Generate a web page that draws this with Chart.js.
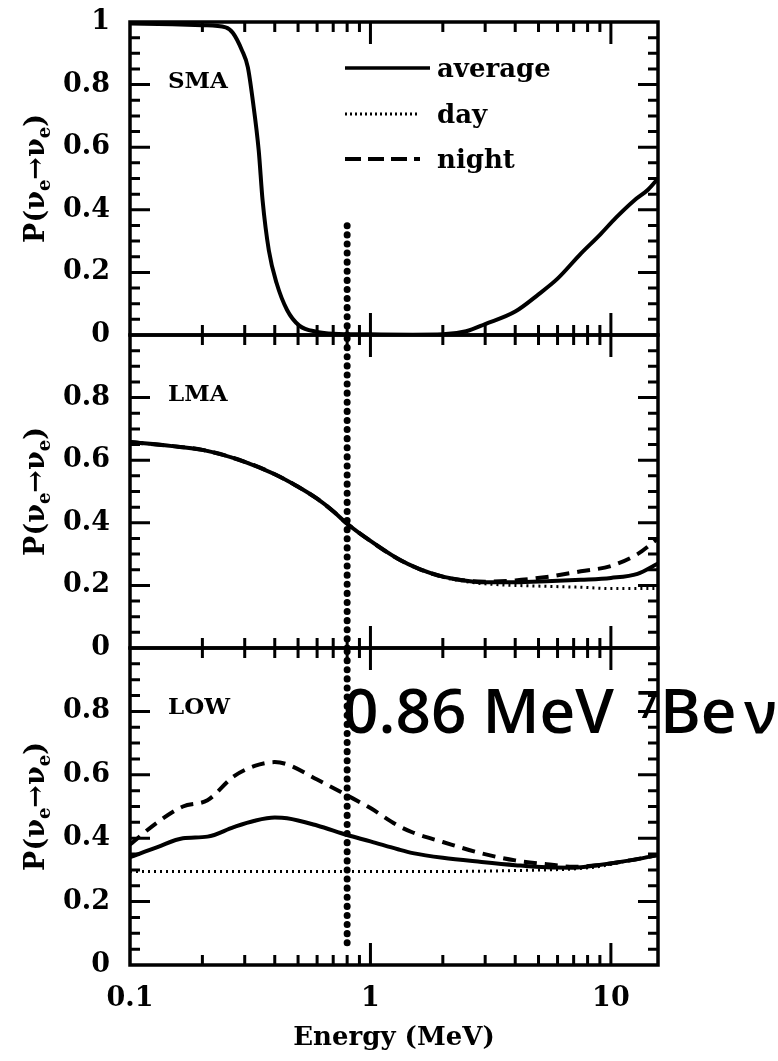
<!DOCTYPE html>
<html>
<head>
<meta charset="utf-8">
<script src="https://cdn.jsdelivr.net/npm/chart.js"></script>
<style>
  html, body { margin: 0; background: #fff; }
  #wrap { position: relative; width: 778px; height: 1061px; }
  #wrap canvas { position: absolute; left: 0; top: 0; }
</style>
</head>
<body>
<div id="wrap">
  <canvas id="sma" width="778" height="1061"></canvas>
  <canvas id="lma" width="778" height="1061"></canvas>
  <canvas id="low" width="778" height="1061"></canvas>
</div>
<script>
// ---- axes ----
const xRange = [0.1, 15.7];
const xMajor = [0.1, 1, 10];
const xMinor = [0.2, 0.3, 0.4, 0.5, 0.6, 0.7, 0.8, 0.9, 2, 3, 4, 5, 6, 7, 8, 9];
const xTickLabels = ['0.1', '1', '10'];
const yMajor = [0, 0.2, 0.4, 0.6, 0.8, 1];
const yMinor = [0.05, 0.1, 0.15, 0.25, 0.3, 0.35, 0.45, 0.5, 0.55, 0.65, 0.7, 0.75, 0.85, 0.9, 0.95];
const yTickLabels = ['0', '0.2', '0.4', '0.6', '0.8', '1'];
const legendLabels = ['average', 'day', 'night'];

// ---- SMA (day/night coincide with the average) ----
const smaE   = [0.1, 0.15, 0.2, 0.25, 0.268, 0.292, 0.309, 0.324, 0.343, 0.356, 0.378, 0.407, 0.45, 0.506, 0.6, 0.7, 1, 1.5, 2, 2.5, 3, 4, 5, 6, 7.5, 9, 10.5, 12.5, 14.3, 15.7];
const smaAvg = [0.995, 0.993, 0.99, 0.983, 0.965, 0.91, 0.856, 0.75, 0.59, 0.43, 0.27, 0.166, 0.08, 0.03, 0.01, 0.004, 0.002, 0.001, 0.002, 0.012, 0.035, 0.075, 0.13, 0.18, 0.26, 0.32, 0.375, 0.43, 0.465, 0.5];

// ---- LMA ----
const lmaE     = [0.1, 0.15, 0.2, 0.3, 0.4, 0.5, 0.6, 0.7, 0.8, 1, 1.3, 1.6, 2, 2.5, 3, 4, 5.4, 7.5, 10, 12.9, 15.7];
const lmaAvg   = [0.658, 0.645, 0.633, 0.595, 0.555, 0.515, 0.477, 0.437, 0.397, 0.342, 0.285, 0.252, 0.228, 0.215, 0.21, 0.21, 0.213, 0.218, 0.224, 0.237, 0.27];
const lmaDay   = [0.658, 0.645, 0.633, 0.595, 0.555, 0.515, 0.477, 0.437, 0.397, 0.342, 0.285, 0.252, 0.226, 0.212, 0.205, 0.2, 0.197, 0.194, 0.19, 0.19, 0.19];
const lmaNight = [0.658, 0.645, 0.633, 0.595, 0.555, 0.515, 0.477, 0.437, 0.397, 0.342, 0.285, 0.252, 0.228, 0.215, 0.212, 0.216, 0.227, 0.245, 0.262, 0.3, 0.35];

// ---- LOW ----
const lowE     = [0.1, 0.13, 0.166, 0.21, 0.27, 0.33, 0.4, 0.45, 0.6, 0.8, 1, 1.3, 1.5, 2, 2.9, 4, 5.4, 7, 8.8, 12, 15.7];
const lowAvg   = [0.34, 0.372, 0.4, 0.405, 0.435, 0.455, 0.465, 0.463, 0.44, 0.41, 0.39, 0.365, 0.353, 0.338, 0.325, 0.315, 0.308, 0.307, 0.315, 0.33, 0.347];
const lowDay   = [0.295, 0.295, 0.295, 0.295, 0.295, 0.295, 0.295, 0.295, 0.295, 0.295, 0.295, 0.295, 0.295, 0.295, 0.296, 0.298, 0.3, 0.303, 0.31, 0.33, 0.347];
const lowNight = [0.38, 0.45, 0.5, 0.52, 0.595, 0.628, 0.64, 0.633, 0.585, 0.535, 0.495, 0.44, 0.418, 0.388, 0.352, 0.33, 0.318, 0.31, 0.315, 0.33, 0.347];

// ---- 7Be line marker (energy, y span per panel) ----
const beE = 0.8;
const smaMarker = [0, 0.374];
const lmaMarker = [0, 1];
const lowMarker = [0.07, 1];

const SERIF = '"DejaVu Serif", "Liberation Serif", serif';
const SANS = '"Open Sans", "DejaVu Sans", sans-serif';
const tickFont = { family: SERIF, weight: 'bold', size: 27 };

const pts = (E, v) => E.map((e, i) => ({ x: e, y: v[i] }));
const curve = (data, kind) => ({
    data,
    borderColor: '#000',
    borderWidth: kind === 'day' ? 3 : 4,
    borderDash: kind === 'day' ? [2, 4] : kind === 'night' ? [13, 8] : [],
    pointRadius: 0,
    fill: false,
    cubicInterpolationMode: 'monotone'
});
const marker = span => ({
    data: span.map(y => ({ x: beE, y })),
    borderColor: '#000',
    borderWidth: 7,
    borderDash: [0.1, 9],
    borderCapStyle: 'round',
    pointRadius: 0,
    tension: 0
});

function drawYTitle(ctx, cx, cy) {
    const big = 'bold 27px ' + SERIF, small = 'bold 18px ' + SERIF;
    const parts = [['P(\u03BD', big, 0], ['e', small, 6], ['\u2192\u03BD', big, 0], ['e', small, 6], [')', big, 0]];
    ctx.save();
    ctx.translate(cx, cy);
    ctx.rotate(-Math.PI / 2);
    let w = 0;
    parts.forEach(p => { ctx.font = p[1]; w += ctx.measureText(p[0]).width; });
    let x = -w / 2;
    ctx.fillStyle = '#000';
    ctx.textBaseline = 'alphabetic';
    parts.forEach(p => {
        ctx.font = p[1];
        ctx.fillText(p[0], x, 9 + p[2]);
        x += ctx.measureText(p[0]).width;
    });
    ctx.restore();
}

// frame with inward ticks on all four sides, plus panel texts
function panelPlugin(name, extra) {
    return {
        id: 'panel_' + name,
        afterDraw(chart) {
            const { ctx, chartArea: a, scales: { x, y } } = chart;
            ctx.save();
            ctx.strokeStyle = '#000';
            ctx.lineCap = 'butt';
            ctx.lineWidth = 3;
            ctx.beginPath();
            const tick = (x1, y1, x2, y2) => { ctx.moveTo(x1, y1); ctx.lineTo(x2, y2); };
            xMinor.forEach(v => {
                const px = x.getPixelForValue(v);
                tick(px, a.bottom, px, a.bottom - 10);
                tick(px, a.top, px, a.top + 10);
            });
            xMajor.slice(1).forEach(v => {
                const px = x.getPixelForValue(v);
                tick(px, a.bottom, px, a.bottom - 22);
                tick(px, a.top, px, a.top + 22);
            });
            yMinor.forEach(v => {
                const py = y.getPixelForValue(v);
                tick(a.left, py, a.left + 10, py);
                tick(a.right, py, a.right - 10, py);
            });
            yMajor.slice(1, -1).forEach(v => {
                const py = y.getPixelForValue(v);
                tick(a.left, py, a.left + 20, py);
                tick(a.right, py, a.right - 20, py);
            });
            ctx.stroke();
            ctx.lineWidth = 3.5;
            ctx.strokeRect(a.left, a.top, a.right - a.left, a.bottom - a.top);

            ctx.fillStyle = '#000';
            ctx.font = 'bold 23px ' + SERIF;
            ctx.textBaseline = 'alphabetic';
            ctx.textAlign = 'left';
            ctx.fillText(name, 168, a.top + 66);
            drawYTitle(ctx, 35, (a.top + a.bottom) / 2);
            if (extra) extra(ctx, a);
            ctx.restore();
        }
    };
}

function drawLegend(ctx) {
    const styles = [{ w: 3.5, d: [], x2: 430 }, { w: 3, d: [2, 3], x2: 420 }, { w: 4, d: [16, 7], x2: 420 }];
    const base = [77, 123, 168];
    styles.forEach((s, i) => {
        ctx.lineWidth = s.w;
        ctx.setLineDash(s.d);
        ctx.beginPath();
        ctx.moveTo(345, base[i] - 9);
        ctx.lineTo(s.x2, base[i] - 9);
        ctx.stroke();
    });
    ctx.setLineDash([]);
    ctx.font = 'bold 26px ' + SERIF;
    legendLabels.forEach((t, i) => ctx.fillText(t, 437, base[i]));
}

function drawBeNote(ctx) {
    ctx.fillStyle = '#000';
    ctx.textBaseline = 'alphabetic';
    ctx.font = '600 62px ' + SANS;
    ctx.fillText('0.86 MeV', 343, 733);
    ctx.fillText('Be', 660, 733);
    ctx.font = '600 58px ' + SANS;
    ctx.fillText('\u03BD', 744, 733);
    ctx.font = '600 38px ' + SANS;
    ctx.fillText('7', 637, 718);
}

function makePanel(id, name, datasets, o) {
    return new Chart(document.getElementById(id), {
        type: 'line',
        data: { datasets },
        options: {
            responsive: false,
            animation: false,
            events: [],
            layout: { padding: { left: 0, right: 120, top: o.top, bottom: o.bottom } },
            plugins: { legend: { display: false }, tooltip: { enabled: false } },
            scales: {
                x: {
                    type: 'logarithmic',
                    min: xRange[0],
                    max: xRange[1],
                    grid: { display: false, drawTicks: false },
                    border: { display: false },
                    afterBuildTicks: s => { s.ticks = xMajor.map(v => ({ value: v })); },
                    ticks: {
                        display: o.xLabels, padding: 18, autoSkip: false, maxRotation: 0,
                        font: tickFont, color: '#000',
                        callback: (v, i) => xTickLabels[i]
                    },
                    title: {
                        display: o.xLabels, text: 'Energy (MeV)', color: '#000',
                        font: { family: SERIF, weight: 'bold', size: 26 },
                        padding: { top: 0, bottom: 7 }
                    },
                    afterFit: s => { s.height = o.xHeight; }
                },
                y: {
                    min: 0,
                    max: 1,
                    grid: { display: false, drawTicks: false },
                    border: { display: false },
                    afterBuildTicks: s => { s.ticks = yMajor.map(v => ({ value: v })); },
                    ticks: {
                        padding: 20, font: tickFont, color: '#000',
                        callback: (v, i) => (i === yMajor.length - 1 && !o.topLabel) ? '' : yTickLabels[i]
                    },
                    // fixed width; drop the label overhang so the panels can butt together
                    afterFit: s => { s.width = 130; s.paddingTop = 0; s.paddingBottom = 0; }
                }
            }
        },
        plugins: [panelPlugin(name, o.extra)]
    });
}

makePanel('sma', 'SMA', [
    curve(pts(smaE, smaAvg), 'average'),
    marker(smaMarker)
], { top: 22, bottom: 726, xHeight: 0, xLabels: false, topLabel: true, extra: drawLegend });

makePanel('lma', 'LMA', [
    curve(pts(lmaE, lmaAvg), 'average'),
    curve(pts(lmaE, lmaDay), 'day'),
    curve(pts(lmaE, lmaNight), 'night'),
    marker(lmaMarker)
], { top: 335, bottom: 413, xHeight: 0, xLabels: false, topLabel: false });

makePanel('low', 'LOW', [
    curve(pts(lowE, lowAvg), 'average'),
    curve(pts(lowE, lowDay), 'day'),
    curve(pts(lowE, lowNight), 'night'),
    marker(lowMarker)
], { top: 648, bottom: 0, xHeight: 96, xLabels: true, topLabel: false, extra: drawBeNote });
</script>
</body>
</html>
